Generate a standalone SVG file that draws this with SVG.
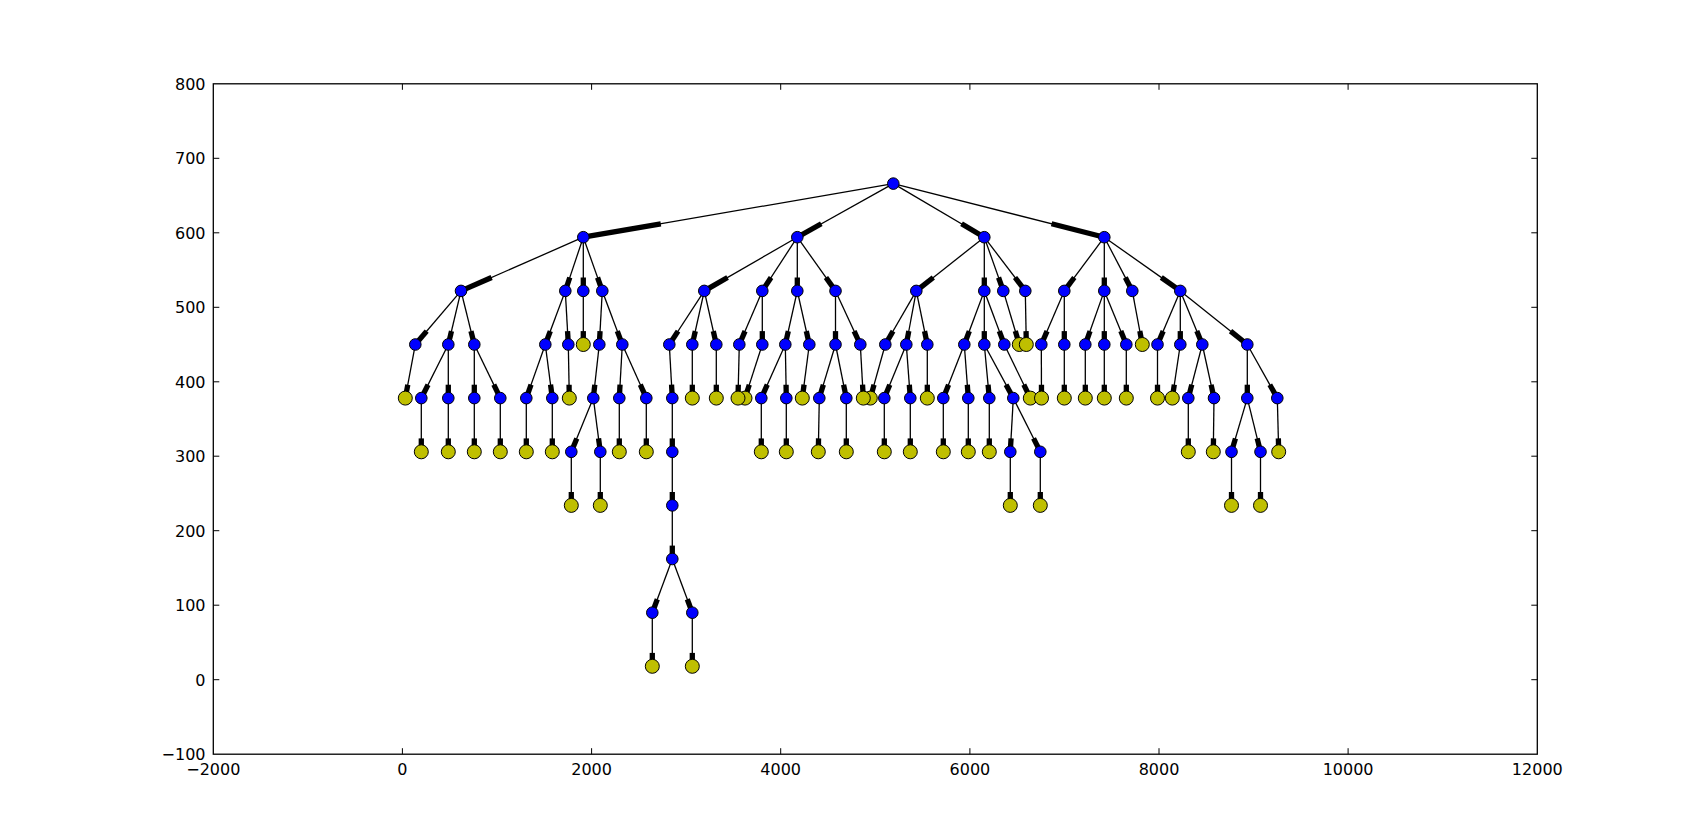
<svg xmlns="http://www.w3.org/2000/svg" width="1707" height="838" viewBox="0 0 1707 838">
<style>
.e line{stroke:#000;stroke-width:1.3}
.a line{stroke:#000;stroke-width:5.3;stroke-linecap:butt}
.b{fill:#0000ff;stroke:#000;stroke-width:1}
.y{fill:#bfbf00;stroke:#000;stroke-width:1}
.t{font-family:"DejaVu Sans",sans-serif;font-size:16px;fill:#000}
.tk line{stroke:#000;stroke-width:1}
</style>
<rect x="0" y="0" width="1707" height="838" fill="#fff"/>
<g id="connectors">
<g class="e">
<line x1="893.3" y1="183.6" x2="583.3" y2="237.2"/>
<line x1="893.3" y1="183.6" x2="797.3" y2="237.2"/>
<line x1="893.3" y1="183.6" x2="984.3" y2="237.2"/>
<line x1="893.3" y1="183.6" x2="1104.3" y2="237.2"/>
<line x1="583.3" y1="237.2" x2="461" y2="290.9"/>
<line x1="583.3" y1="237.2" x2="565.3" y2="290.9"/>
<line x1="583.3" y1="237.2" x2="583.3" y2="290.9"/>
<line x1="583.3" y1="237.2" x2="602.3" y2="290.9"/>
<line x1="797.3" y1="237.2" x2="704.3" y2="290.9"/>
<line x1="797.3" y1="237.2" x2="762.3" y2="290.9"/>
<line x1="797.3" y1="237.2" x2="797.3" y2="290.9"/>
<line x1="797.3" y1="237.2" x2="835.5" y2="290.9"/>
<line x1="984.3" y1="237.2" x2="916.3" y2="290.9"/>
<line x1="984.3" y1="237.2" x2="984.3" y2="290.9"/>
<line x1="984.3" y1="237.2" x2="1003.3" y2="290.9"/>
<line x1="984.3" y1="237.2" x2="1025.3" y2="290.9"/>
<line x1="1104.3" y1="237.2" x2="1064.3" y2="290.9"/>
<line x1="1104.3" y1="237.2" x2="1104.3" y2="290.9"/>
<line x1="1104.3" y1="237.2" x2="1132.3" y2="290.9"/>
<line x1="1104.3" y1="237.2" x2="1180.3" y2="290.9"/>
<line x1="461" y1="290.9" x2="415.3" y2="344.5"/>
<line x1="461" y1="290.9" x2="448.3" y2="344.5"/>
<line x1="461" y1="290.9" x2="474.3" y2="344.5"/>
<line x1="565.3" y1="290.9" x2="545.3" y2="344.5"/>
<line x1="565.3" y1="290.9" x2="568.3" y2="344.5"/>
<line x1="583.3" y1="290.9" x2="583.3" y2="344.5"/>
<line x1="602.3" y1="290.9" x2="599.3" y2="344.5"/>
<line x1="602.3" y1="290.9" x2="622.3" y2="344.5"/>
<line x1="704.3" y1="290.9" x2="669.3" y2="344.5"/>
<line x1="704.3" y1="290.9" x2="692.3" y2="344.5"/>
<line x1="704.3" y1="290.9" x2="716.3" y2="344.5"/>
<line x1="762.3" y1="290.9" x2="739.3" y2="344.5"/>
<line x1="762.3" y1="290.9" x2="762.3" y2="344.5"/>
<line x1="797.3" y1="290.9" x2="785.3" y2="344.5"/>
<line x1="797.3" y1="290.9" x2="809.3" y2="344.5"/>
<line x1="835.5" y1="290.9" x2="835.5" y2="344.5"/>
<line x1="835.5" y1="290.9" x2="860.3" y2="344.5"/>
<line x1="916.3" y1="290.9" x2="885.3" y2="344.5"/>
<line x1="916.3" y1="290.9" x2="906.3" y2="344.5"/>
<line x1="916.3" y1="290.9" x2="927.3" y2="344.5"/>
<line x1="984.3" y1="290.9" x2="964.3" y2="344.5"/>
<line x1="984.3" y1="290.9" x2="984.3" y2="344.5"/>
<line x1="984.3" y1="290.9" x2="1004.3" y2="344.5"/>
<line x1="1003.3" y1="290.9" x2="1019.3" y2="344.5"/>
<line x1="1025.3" y1="290.9" x2="1026.3" y2="344.5"/>
<line x1="1064.3" y1="290.9" x2="1041.3" y2="344.5"/>
<line x1="1064.3" y1="290.9" x2="1064.3" y2="344.5"/>
<line x1="1104.3" y1="290.9" x2="1085.3" y2="344.5"/>
<line x1="1104.3" y1="290.9" x2="1104.3" y2="344.5"/>
<line x1="1104.3" y1="290.9" x2="1126.3" y2="344.5"/>
<line x1="1132.3" y1="290.9" x2="1142.3" y2="344.5"/>
<line x1="1180.3" y1="290.9" x2="1157.5" y2="344.5"/>
<line x1="1180.3" y1="290.9" x2="1180.3" y2="344.5"/>
<line x1="1180.3" y1="290.9" x2="1202.3" y2="344.5"/>
<line x1="1180.3" y1="290.9" x2="1247.3" y2="344.5"/>
<line x1="415.3" y1="344.5" x2="405.3" y2="398.1"/>
<line x1="448.3" y1="344.5" x2="421.3" y2="398.1"/>
<line x1="448.3" y1="344.5" x2="448.3" y2="398.1"/>
<line x1="474.3" y1="344.5" x2="474.3" y2="398.1"/>
<line x1="474.3" y1="344.5" x2="500.3" y2="398.1"/>
<line x1="545.3" y1="344.5" x2="526.3" y2="398.1"/>
<line x1="545.3" y1="344.5" x2="552.3" y2="398.1"/>
<line x1="568.3" y1="344.5" x2="569.3" y2="398.1"/>
<line x1="599.3" y1="344.5" x2="593.3" y2="398.1"/>
<line x1="622.3" y1="344.5" x2="619.3" y2="398.1"/>
<line x1="622.3" y1="344.5" x2="646.3" y2="398.1"/>
<line x1="669.3" y1="344.5" x2="672.3" y2="398.1"/>
<line x1="692.3" y1="344.5" x2="692.3" y2="398.1"/>
<line x1="716.3" y1="344.5" x2="716.3" y2="398.1"/>
<line x1="739.3" y1="344.5" x2="738" y2="398.1"/>
<line x1="762.3" y1="344.5" x2="745" y2="398.1"/>
<line x1="785.3" y1="344.5" x2="761.3" y2="398.1"/>
<line x1="785.3" y1="344.5" x2="786.3" y2="398.1"/>
<line x1="809.3" y1="344.5" x2="802.3" y2="398.1"/>
<line x1="835.5" y1="344.5" x2="819.3" y2="398.1"/>
<line x1="835.5" y1="344.5" x2="846.3" y2="398.1"/>
<line x1="860.3" y1="344.5" x2="863.3" y2="398.1"/>
<line x1="885.3" y1="344.5" x2="870.3" y2="398.1"/>
<line x1="906.3" y1="344.5" x2="884.3" y2="398.1"/>
<line x1="906.3" y1="344.5" x2="910.3" y2="398.1"/>
<line x1="927.3" y1="344.5" x2="927.3" y2="398.1"/>
<line x1="964.3" y1="344.5" x2="943.3" y2="398.1"/>
<line x1="964.3" y1="344.5" x2="968.3" y2="398.1"/>
<line x1="984.3" y1="344.5" x2="989.3" y2="398.1"/>
<line x1="984.3" y1="344.5" x2="1013.3" y2="398.1"/>
<line x1="1004.3" y1="344.5" x2="1030.3" y2="398.1"/>
<line x1="1041.3" y1="344.5" x2="1041.5" y2="398.1"/>
<line x1="1064.3" y1="344.5" x2="1064.3" y2="398.1"/>
<line x1="1085.3" y1="344.5" x2="1085.3" y2="398.1"/>
<line x1="1104.3" y1="344.5" x2="1104.3" y2="398.1"/>
<line x1="1126.3" y1="344.5" x2="1126.3" y2="398.1"/>
<line x1="1157.5" y1="344.5" x2="1157.5" y2="398.1"/>
<line x1="1180.3" y1="344.5" x2="1172.3" y2="398.1"/>
<line x1="1202.3" y1="344.5" x2="1188.3" y2="398.1"/>
<line x1="1202.3" y1="344.5" x2="1214" y2="398.1"/>
<line x1="1247.3" y1="344.5" x2="1247.3" y2="398.1"/>
<line x1="1247.3" y1="344.5" x2="1277.3" y2="398.1"/>
<line x1="421.3" y1="398.1" x2="421.3" y2="451.8"/>
<line x1="448.3" y1="398.1" x2="448.3" y2="451.8"/>
<line x1="474.3" y1="398.1" x2="474.3" y2="451.8"/>
<line x1="500.3" y1="398.1" x2="500.3" y2="451.8"/>
<line x1="526.3" y1="398.1" x2="526.3" y2="451.8"/>
<line x1="552.3" y1="398.1" x2="552.3" y2="451.8"/>
<line x1="593.3" y1="398.1" x2="571.3" y2="451.8"/>
<line x1="593.3" y1="398.1" x2="600.3" y2="451.8"/>
<line x1="619.3" y1="398.1" x2="619.3" y2="451.8"/>
<line x1="646.3" y1="398.1" x2="646.3" y2="451.8"/>
<line x1="672.3" y1="398.1" x2="672.3" y2="451.8"/>
<line x1="761.3" y1="398.1" x2="761.3" y2="451.8"/>
<line x1="786.3" y1="398.1" x2="786.3" y2="451.8"/>
<line x1="819.3" y1="398.1" x2="818.3" y2="451.8"/>
<line x1="846.3" y1="398.1" x2="846.3" y2="451.8"/>
<line x1="884.3" y1="398.1" x2="884.3" y2="451.8"/>
<line x1="910.3" y1="398.1" x2="910.3" y2="451.8"/>
<line x1="943.3" y1="398.1" x2="943.3" y2="451.8"/>
<line x1="968.3" y1="398.1" x2="968.3" y2="451.8"/>
<line x1="989.3" y1="398.1" x2="989.3" y2="451.8"/>
<line x1="1013.3" y1="398.1" x2="1010.3" y2="451.8"/>
<line x1="1013.3" y1="398.1" x2="1040.3" y2="451.8"/>
<line x1="1188.3" y1="398.1" x2="1188.3" y2="451.8"/>
<line x1="1214" y1="398.1" x2="1213.3" y2="451.8"/>
<line x1="1247.3" y1="398.1" x2="1231.5" y2="451.8"/>
<line x1="1247.3" y1="398.1" x2="1260.5" y2="451.8"/>
<line x1="1277.3" y1="398.1" x2="1278.7" y2="451.8"/>
<line x1="571.3" y1="451.8" x2="571.3" y2="505.4"/>
<line x1="600.3" y1="451.8" x2="600.3" y2="505.4"/>
<line x1="672.3" y1="451.8" x2="672.3" y2="505.4"/>
<line x1="1010.3" y1="451.8" x2="1010.3" y2="505.4"/>
<line x1="1040.3" y1="451.8" x2="1040.3" y2="505.4"/>
<line x1="1231.5" y1="451.8" x2="1231.5" y2="505.4"/>
<line x1="1260.5" y1="451.8" x2="1260.5" y2="505.4"/>
<line x1="672.3" y1="505.4" x2="672.3" y2="559"/>
<line x1="672.3" y1="559" x2="652.3" y2="612.7"/>
<line x1="672.3" y1="559" x2="692.3" y2="612.7"/>
<line x1="652.3" y1="612.7" x2="652.3" y2="666.3"/>
<line x1="692.3" y1="612.7" x2="692.3" y2="666.3"/>
</g>
<g class="a">
<line x1="660.8" y1="223.8" x2="583.3" y2="237.2"/>
<line x1="821.3" y1="223.8" x2="797.3" y2="237.2"/>
<line x1="961.55" y1="223.8" x2="984.3" y2="237.2"/>
<line x1="1051.55" y1="223.8" x2="1104.3" y2="237.2"/>
<line x1="491.6" y1="277.5" x2="461" y2="290.9"/>
<line x1="569.8" y1="277.5" x2="565.3" y2="290.9"/>
<line x1="583.3" y1="277.5" x2="583.3" y2="290.9"/>
<line x1="597.55" y1="277.5" x2="602.3" y2="290.9"/>
<line x1="727.55" y1="277.5" x2="704.3" y2="290.9"/>
<line x1="771.05" y1="277.5" x2="762.3" y2="290.9"/>
<line x1="797.3" y1="277.5" x2="797.3" y2="290.9"/>
<line x1="825.95" y1="277.5" x2="835.5" y2="290.9"/>
<line x1="933.3" y1="277.5" x2="916.3" y2="290.9"/>
<line x1="984.3" y1="277.5" x2="984.3" y2="290.9"/>
<line x1="998.55" y1="277.5" x2="1003.3" y2="290.9"/>
<line x1="1015.05" y1="277.5" x2="1025.3" y2="290.9"/>
<line x1="1074.3" y1="277.5" x2="1064.3" y2="290.9"/>
<line x1="1104.3" y1="277.5" x2="1104.3" y2="290.9"/>
<line x1="1125.3" y1="277.5" x2="1132.3" y2="290.9"/>
<line x1="1161.3" y1="277.5" x2="1180.3" y2="290.9"/>
<line x1="426.7" y1="331.1" x2="415.3" y2="344.5"/>
<line x1="451.5" y1="331.1" x2="448.3" y2="344.5"/>
<line x1="470.98" y1="331.1" x2="474.3" y2="344.5"/>
<line x1="550.3" y1="331.1" x2="545.3" y2="344.5"/>
<line x1="567.55" y1="331.1" x2="568.3" y2="344.5"/>
<line x1="583.3" y1="331.1" x2="583.3" y2="344.5"/>
<line x1="600.05" y1="331.1" x2="599.3" y2="344.5"/>
<line x1="617.3" y1="331.1" x2="622.3" y2="344.5"/>
<line x1="678.05" y1="331.1" x2="669.3" y2="344.5"/>
<line x1="695.3" y1="331.1" x2="692.3" y2="344.5"/>
<line x1="713.3" y1="331.1" x2="716.3" y2="344.5"/>
<line x1="745.05" y1="331.1" x2="739.3" y2="344.5"/>
<line x1="762.3" y1="331.1" x2="762.3" y2="344.5"/>
<line x1="788.3" y1="331.1" x2="785.3" y2="344.5"/>
<line x1="806.3" y1="331.1" x2="809.3" y2="344.5"/>
<line x1="835.5" y1="331.1" x2="835.5" y2="344.5"/>
<line x1="854.1" y1="331.1" x2="860.3" y2="344.5"/>
<line x1="893.05" y1="331.1" x2="885.3" y2="344.5"/>
<line x1="908.8" y1="331.1" x2="906.3" y2="344.5"/>
<line x1="924.55" y1="331.1" x2="927.3" y2="344.5"/>
<line x1="969.3" y1="331.1" x2="964.3" y2="344.5"/>
<line x1="984.3" y1="331.1" x2="984.3" y2="344.5"/>
<line x1="999.3" y1="331.1" x2="1004.3" y2="344.5"/>
<line x1="1015.3" y1="331.1" x2="1019.3" y2="344.5"/>
<line x1="1026.05" y1="331.1" x2="1026.3" y2="344.5"/>
<line x1="1047.05" y1="331.1" x2="1041.3" y2="344.5"/>
<line x1="1064.3" y1="331.1" x2="1064.3" y2="344.5"/>
<line x1="1090.05" y1="331.1" x2="1085.3" y2="344.5"/>
<line x1="1104.3" y1="331.1" x2="1104.3" y2="344.5"/>
<line x1="1120.8" y1="331.1" x2="1126.3" y2="344.5"/>
<line x1="1139.8" y1="331.1" x2="1142.3" y2="344.5"/>
<line x1="1163.2" y1="331.1" x2="1157.5" y2="344.5"/>
<line x1="1180.3" y1="331.1" x2="1180.3" y2="344.5"/>
<line x1="1196.8" y1="331.1" x2="1202.3" y2="344.5"/>
<line x1="1230.55" y1="331.1" x2="1247.3" y2="344.5"/>
<line x1="407.8" y1="384.7" x2="405.3" y2="398.1"/>
<line x1="428.05" y1="384.7" x2="421.3" y2="398.1"/>
<line x1="448.3" y1="384.7" x2="448.3" y2="398.1"/>
<line x1="474.3" y1="384.7" x2="474.3" y2="398.1"/>
<line x1="493.8" y1="384.7" x2="500.3" y2="398.1"/>
<line x1="531.05" y1="384.7" x2="526.3" y2="398.1"/>
<line x1="550.55" y1="384.7" x2="552.3" y2="398.1"/>
<line x1="569.05" y1="384.7" x2="569.3" y2="398.1"/>
<line x1="594.8" y1="384.7" x2="593.3" y2="398.1"/>
<line x1="620.05" y1="384.7" x2="619.3" y2="398.1"/>
<line x1="640.3" y1="384.7" x2="646.3" y2="398.1"/>
<line x1="671.55" y1="384.7" x2="672.3" y2="398.1"/>
<line x1="692.3" y1="384.7" x2="692.3" y2="398.1"/>
<line x1="716.3" y1="384.7" x2="716.3" y2="398.1"/>
<line x1="738.3" y1="384.7" x2="738" y2="398.1"/>
<line x1="749.3" y1="384.7" x2="745" y2="398.1"/>
<line x1="767.3" y1="384.7" x2="761.3" y2="398.1"/>
<line x1="786.05" y1="384.7" x2="786.3" y2="398.1"/>
<line x1="804.05" y1="384.7" x2="802.3" y2="398.1"/>
<line x1="823.35" y1="384.7" x2="819.3" y2="398.1"/>
<line x1="843.6" y1="384.7" x2="846.3" y2="398.1"/>
<line x1="862.55" y1="384.7" x2="863.3" y2="398.1"/>
<line x1="874.05" y1="384.7" x2="870.3" y2="398.1"/>
<line x1="889.8" y1="384.7" x2="884.3" y2="398.1"/>
<line x1="909.3" y1="384.7" x2="910.3" y2="398.1"/>
<line x1="927.3" y1="384.7" x2="927.3" y2="398.1"/>
<line x1="948.55" y1="384.7" x2="943.3" y2="398.1"/>
<line x1="967.3" y1="384.7" x2="968.3" y2="398.1"/>
<line x1="988.05" y1="384.7" x2="989.3" y2="398.1"/>
<line x1="1006.05" y1="384.7" x2="1013.3" y2="398.1"/>
<line x1="1023.8" y1="384.7" x2="1030.3" y2="398.1"/>
<line x1="1041.45" y1="384.7" x2="1041.5" y2="398.1"/>
<line x1="1064.3" y1="384.7" x2="1064.3" y2="398.1"/>
<line x1="1085.3" y1="384.7" x2="1085.3" y2="398.1"/>
<line x1="1104.3" y1="384.7" x2="1104.3" y2="398.1"/>
<line x1="1126.3" y1="384.7" x2="1126.3" y2="398.1"/>
<line x1="1157.5" y1="384.7" x2="1157.5" y2="398.1"/>
<line x1="1174.3" y1="384.7" x2="1172.3" y2="398.1"/>
<line x1="1191.8" y1="384.7" x2="1188.3" y2="398.1"/>
<line x1="1211.1" y1="384.7" x2="1214" y2="398.1"/>
<line x1="1247.3" y1="384.7" x2="1247.3" y2="398.1"/>
<line x1="1269.8" y1="384.7" x2="1277.3" y2="398.1"/>
<line x1="421.3" y1="438.4" x2="421.3" y2="451.8"/>
<line x1="448.3" y1="438.4" x2="448.3" y2="451.8"/>
<line x1="474.3" y1="438.4" x2="474.3" y2="451.8"/>
<line x1="500.3" y1="438.4" x2="500.3" y2="451.8"/>
<line x1="526.3" y1="438.4" x2="526.3" y2="451.8"/>
<line x1="552.3" y1="438.4" x2="552.3" y2="451.8"/>
<line x1="576.8" y1="438.4" x2="571.3" y2="451.8"/>
<line x1="598.55" y1="438.4" x2="600.3" y2="451.8"/>
<line x1="619.3" y1="438.4" x2="619.3" y2="451.8"/>
<line x1="646.3" y1="438.4" x2="646.3" y2="451.8"/>
<line x1="672.3" y1="438.4" x2="672.3" y2="451.8"/>
<line x1="761.3" y1="438.4" x2="761.3" y2="451.8"/>
<line x1="786.3" y1="438.4" x2="786.3" y2="451.8"/>
<line x1="818.55" y1="438.4" x2="818.3" y2="451.8"/>
<line x1="846.3" y1="438.4" x2="846.3" y2="451.8"/>
<line x1="884.3" y1="438.4" x2="884.3" y2="451.8"/>
<line x1="910.3" y1="438.4" x2="910.3" y2="451.8"/>
<line x1="943.3" y1="438.4" x2="943.3" y2="451.8"/>
<line x1="968.3" y1="438.4" x2="968.3" y2="451.8"/>
<line x1="989.3" y1="438.4" x2="989.3" y2="451.8"/>
<line x1="1011.05" y1="438.4" x2="1010.3" y2="451.8"/>
<line x1="1033.55" y1="438.4" x2="1040.3" y2="451.8"/>
<line x1="1188.3" y1="438.4" x2="1188.3" y2="451.8"/>
<line x1="1213.5" y1="438.4" x2="1213.3" y2="451.8"/>
<line x1="1235.45" y1="438.4" x2="1231.5" y2="451.8"/>
<line x1="1257.2" y1="438.4" x2="1260.5" y2="451.8"/>
<line x1="1278.35" y1="438.4" x2="1278.7" y2="451.8"/>
<line x1="571.3" y1="492" x2="571.3" y2="505.4"/>
<line x1="600.3" y1="492" x2="600.3" y2="505.4"/>
<line x1="672.3" y1="492" x2="672.3" y2="505.4"/>
<line x1="1010.3" y1="492" x2="1010.3" y2="505.4"/>
<line x1="1040.3" y1="492" x2="1040.3" y2="505.4"/>
<line x1="1231.5" y1="492" x2="1231.5" y2="505.4"/>
<line x1="1260.5" y1="492" x2="1260.5" y2="505.4"/>
<line x1="672.3" y1="545.6" x2="672.3" y2="559"/>
<line x1="657.3" y1="599.3" x2="652.3" y2="612.7"/>
<line x1="687.3" y1="599.3" x2="692.3" y2="612.7"/>
<line x1="652.3" y1="652.9" x2="652.3" y2="666.3"/>
<line x1="692.3" y1="652.9" x2="692.3" y2="666.3"/>
</g>
</g>
<g id="nodes">
<g id="n-root"><circle class="b" cx="893.3" cy="183.6" r="5.8"/></g>
<g id="n1-1"><circle class="b" cx="583.3" cy="237.2" r="5.8"/></g>
<g id="n1-2"><circle class="b" cx="797.3" cy="237.2" r="5.8"/></g>
<g id="n1-3"><circle class="b" cx="984.3" cy="237.2" r="5.8"/></g>
<g id="n1-4"><circle class="b" cx="1104.3" cy="237.2" r="5.8"/></g>
<g id="n2-1"><circle class="b" cx="461" cy="290.9" r="5.8"/></g>
<g id="n2-2"><circle class="b" cx="565.3" cy="290.9" r="5.8"/></g>
<g id="n2-3"><circle class="b" cx="583.3" cy="290.9" r="5.8"/></g>
<g id="n2-4"><circle class="b" cx="602.3" cy="290.9" r="5.8"/></g>
<g id="n2-5"><circle class="b" cx="704.3" cy="290.9" r="5.8"/></g>
<g id="n2-6"><circle class="b" cx="762.3" cy="290.9" r="5.8"/></g>
<g id="n2-7"><circle class="b" cx="797.3" cy="290.9" r="5.8"/></g>
<g id="n2-8"><circle class="b" cx="835.5" cy="290.9" r="5.8"/></g>
<g id="n2-9"><circle class="b" cx="916.3" cy="290.9" r="5.8"/></g>
<g id="n2-10"><circle class="b" cx="984.3" cy="290.9" r="5.8"/></g>
<g id="n2-11"><circle class="b" cx="1003.3" cy="290.9" r="5.8"/></g>
<g id="n2-12"><circle class="b" cx="1025.3" cy="290.9" r="5.8"/></g>
<g id="n2-13"><circle class="b" cx="1064.3" cy="290.9" r="5.8"/></g>
<g id="n2-14"><circle class="b" cx="1104.3" cy="290.9" r="5.8"/></g>
<g id="n2-15"><circle class="b" cx="1132.3" cy="290.9" r="5.8"/></g>
<g id="n2-16"><circle class="b" cx="1180.3" cy="290.9" r="5.8"/></g>
<g id="n3-1"><circle class="b" cx="415.3" cy="344.5" r="5.8"/></g>
<g id="n3-2"><circle class="b" cx="448.3" cy="344.5" r="5.8"/></g>
<g id="n3-3"><circle class="b" cx="474.3" cy="344.5" r="5.8"/></g>
<g id="n3-4"><circle class="b" cx="545.3" cy="344.5" r="5.8"/></g>
<g id="n3-5"><circle class="b" cx="568.3" cy="344.5" r="5.8"/></g>
<g id="n3-6"><circle class="y" cx="583.3" cy="344.5" r="7"/></g>
<g id="n3-7"><circle class="b" cx="599.3" cy="344.5" r="5.8"/></g>
<g id="n3-8"><circle class="b" cx="622.3" cy="344.5" r="5.8"/></g>
<g id="n3-9"><circle class="b" cx="669.3" cy="344.5" r="5.8"/></g>
<g id="n3-10"><circle class="b" cx="692.3" cy="344.5" r="5.8"/></g>
<g id="n3-11"><circle class="b" cx="716.3" cy="344.5" r="5.8"/></g>
<g id="n3-12"><circle class="b" cx="739.3" cy="344.5" r="5.8"/></g>
<g id="n3-13"><circle class="b" cx="762.3" cy="344.5" r="5.8"/></g>
<g id="n3-14"><circle class="b" cx="785.3" cy="344.5" r="5.8"/></g>
<g id="n3-15"><circle class="b" cx="809.3" cy="344.5" r="5.8"/></g>
<g id="n3-16"><circle class="b" cx="835.5" cy="344.5" r="5.8"/></g>
<g id="n3-17"><circle class="b" cx="860.3" cy="344.5" r="5.8"/></g>
<g id="n3-18"><circle class="b" cx="885.3" cy="344.5" r="5.8"/></g>
<g id="n3-19"><circle class="b" cx="906.3" cy="344.5" r="5.8"/></g>
<g id="n3-20"><circle class="b" cx="927.3" cy="344.5" r="5.8"/></g>
<g id="n3-21"><circle class="b" cx="964.3" cy="344.5" r="5.8"/></g>
<g id="n3-22"><circle class="b" cx="984.3" cy="344.5" r="5.8"/></g>
<g id="n3-23"><circle class="b" cx="1004.3" cy="344.5" r="5.8"/></g>
<g id="n3-24"><circle class="y" cx="1019.3" cy="344.5" r="7"/></g>
<g id="n3-25"><circle class="y" cx="1026.3" cy="344.5" r="7"/></g>
<g id="n3-26"><circle class="b" cx="1041.3" cy="344.5" r="5.8"/></g>
<g id="n3-27"><circle class="b" cx="1064.3" cy="344.5" r="5.8"/></g>
<g id="n3-28"><circle class="b" cx="1085.3" cy="344.5" r="5.8"/></g>
<g id="n3-29"><circle class="b" cx="1104.3" cy="344.5" r="5.8"/></g>
<g id="n3-30"><circle class="b" cx="1126.3" cy="344.5" r="5.8"/></g>
<g id="n3-31"><circle class="y" cx="1142.3" cy="344.5" r="7"/></g>
<g id="n3-32"><circle class="b" cx="1157.5" cy="344.5" r="5.8"/></g>
<g id="n3-33"><circle class="b" cx="1180.3" cy="344.5" r="5.8"/></g>
<g id="n3-34"><circle class="b" cx="1202.3" cy="344.5" r="5.8"/></g>
<g id="n3-35"><circle class="b" cx="1247.3" cy="344.5" r="5.8"/></g>
<g id="n4-1"><circle class="y" cx="405.3" cy="398.1" r="7"/></g>
<g id="n4-2"><circle class="b" cx="421.3" cy="398.1" r="5.8"/></g>
<g id="n4-3"><circle class="b" cx="448.3" cy="398.1" r="5.8"/></g>
<g id="n4-4"><circle class="b" cx="474.3" cy="398.1" r="5.8"/></g>
<g id="n4-5"><circle class="b" cx="500.3" cy="398.1" r="5.8"/></g>
<g id="n4-6"><circle class="b" cx="526.3" cy="398.1" r="5.8"/></g>
<g id="n4-7"><circle class="b" cx="552.3" cy="398.1" r="5.8"/></g>
<g id="n4-8"><circle class="y" cx="569.3" cy="398.1" r="7"/></g>
<g id="n4-9"><circle class="b" cx="593.3" cy="398.1" r="5.8"/></g>
<g id="n4-10"><circle class="b" cx="619.3" cy="398.1" r="5.8"/></g>
<g id="n4-11"><circle class="b" cx="646.3" cy="398.1" r="5.8"/></g>
<g id="n4-12"><circle class="b" cx="672.3" cy="398.1" r="5.8"/></g>
<g id="n4-13"><circle class="y" cx="692.3" cy="398.1" r="7"/></g>
<g id="n4-14"><circle class="y" cx="716.3" cy="398.1" r="7"/></g>
<g id="n4-16"><circle class="y" cx="745" cy="398.1" r="7"/></g>
<g id="n4-15"><circle class="y" cx="738" cy="398.1" r="7"/></g>
<g id="n4-17"><circle class="b" cx="761.3" cy="398.1" r="5.8"/></g>
<g id="n4-18"><circle class="b" cx="786.3" cy="398.1" r="5.8"/></g>
<g id="n4-19"><circle class="y" cx="802.3" cy="398.1" r="7"/></g>
<g id="n4-20"><circle class="b" cx="819.3" cy="398.1" r="5.8"/></g>
<g id="n4-21"><circle class="b" cx="846.3" cy="398.1" r="5.8"/></g>
<g id="n4-23"><circle class="y" cx="870.3" cy="398.1" r="7"/></g>
<g id="n4-22"><circle class="y" cx="863.3" cy="398.1" r="7"/></g>
<g id="n4-24"><circle class="b" cx="884.3" cy="398.1" r="5.8"/></g>
<g id="n4-25"><circle class="b" cx="910.3" cy="398.1" r="5.8"/></g>
<g id="n4-26"><circle class="y" cx="927.3" cy="398.1" r="7"/></g>
<g id="n4-27"><circle class="b" cx="943.3" cy="398.1" r="5.8"/></g>
<g id="n4-28"><circle class="b" cx="968.3" cy="398.1" r="5.8"/></g>
<g id="n4-29"><circle class="b" cx="989.3" cy="398.1" r="5.8"/></g>
<g id="n4-30"><circle class="b" cx="1013.3" cy="398.1" r="5.8"/></g>
<g id="n4-31"><circle class="y" cx="1030.3" cy="398.1" r="7"/></g>
<g id="n4-32"><circle class="y" cx="1041.5" cy="398.1" r="7"/></g>
<g id="n4-33"><circle class="y" cx="1064.3" cy="398.1" r="7"/></g>
<g id="n4-34"><circle class="y" cx="1085.3" cy="398.1" r="7"/></g>
<g id="n4-35"><circle class="y" cx="1104.3" cy="398.1" r="7"/></g>
<g id="n4-36"><circle class="y" cx="1126.3" cy="398.1" r="7"/></g>
<g id="n4-37"><circle class="y" cx="1157.5" cy="398.1" r="7"/></g>
<g id="n4-38"><circle class="y" cx="1172.3" cy="398.1" r="7"/></g>
<g id="n4-39"><circle class="b" cx="1188.3" cy="398.1" r="5.8"/></g>
<g id="n4-40"><circle class="b" cx="1214" cy="398.1" r="5.8"/></g>
<g id="n4-41"><circle class="b" cx="1247.3" cy="398.1" r="5.8"/></g>
<g id="n4-42"><circle class="b" cx="1277.3" cy="398.1" r="5.8"/></g>
<g id="n5-1"><circle class="y" cx="421.3" cy="451.8" r="7"/></g>
<g id="n5-2"><circle class="y" cx="448.3" cy="451.8" r="7"/></g>
<g id="n5-3"><circle class="y" cx="474.3" cy="451.8" r="7"/></g>
<g id="n5-4"><circle class="y" cx="500.3" cy="451.8" r="7"/></g>
<g id="n5-5"><circle class="y" cx="526.3" cy="451.8" r="7"/></g>
<g id="n5-6"><circle class="y" cx="552.3" cy="451.8" r="7"/></g>
<g id="n5-7"><circle class="b" cx="571.3" cy="451.8" r="5.8"/></g>
<g id="n5-8"><circle class="b" cx="600.3" cy="451.8" r="5.8"/></g>
<g id="n5-9"><circle class="y" cx="619.3" cy="451.8" r="7"/></g>
<g id="n5-10"><circle class="y" cx="646.3" cy="451.8" r="7"/></g>
<g id="n5-11"><circle class="b" cx="672.3" cy="451.8" r="5.8"/></g>
<g id="n5-12"><circle class="y" cx="761.3" cy="451.8" r="7"/></g>
<g id="n5-13"><circle class="y" cx="786.3" cy="451.8" r="7"/></g>
<g id="n5-14"><circle class="y" cx="818.3" cy="451.8" r="7"/></g>
<g id="n5-15"><circle class="y" cx="846.3" cy="451.8" r="7"/></g>
<g id="n5-16"><circle class="y" cx="884.3" cy="451.8" r="7"/></g>
<g id="n5-17"><circle class="y" cx="910.3" cy="451.8" r="7"/></g>
<g id="n5-18"><circle class="y" cx="943.3" cy="451.8" r="7"/></g>
<g id="n5-19"><circle class="y" cx="968.3" cy="451.8" r="7"/></g>
<g id="n5-20"><circle class="y" cx="989.3" cy="451.8" r="7"/></g>
<g id="n5-21"><circle class="b" cx="1010.3" cy="451.8" r="5.8"/></g>
<g id="n5-22"><circle class="b" cx="1040.3" cy="451.8" r="5.8"/></g>
<g id="n5-23"><circle class="y" cx="1188.3" cy="451.8" r="7"/></g>
<g id="n5-24"><circle class="y" cx="1213.3" cy="451.8" r="7"/></g>
<g id="n5-25"><circle class="b" cx="1231.5" cy="451.8" r="5.8"/></g>
<g id="n5-26"><circle class="b" cx="1260.5" cy="451.8" r="5.8"/></g>
<g id="n5-27"><circle class="y" cx="1278.7" cy="451.8" r="7"/></g>
<g id="n6-1"><circle class="y" cx="571.3" cy="505.4" r="7"/></g>
<g id="n6-2"><circle class="y" cx="600.3" cy="505.4" r="7"/></g>
<g id="n6-3"><circle class="b" cx="672.3" cy="505.4" r="5.8"/></g>
<g id="n6-4"><circle class="y" cx="1010.3" cy="505.4" r="7"/></g>
<g id="n6-5"><circle class="y" cx="1040.3" cy="505.4" r="7"/></g>
<g id="n6-6"><circle class="y" cx="1231.5" cy="505.4" r="7"/></g>
<g id="n6-7"><circle class="y" cx="1260.5" cy="505.4" r="7"/></g>
<g id="n7-1"><circle class="b" cx="672.3" cy="559" r="5.8"/></g>
<g id="n8-1"><circle class="b" cx="652.3" cy="612.7" r="5.8"/></g>
<g id="n8-2"><circle class="b" cx="692.3" cy="612.7" r="5.8"/></g>
<g id="n9-1"><circle class="y" cx="652.3" cy="666.3" r="7"/></g>
<g id="n9-2"><circle class="y" cx="692.3" cy="666.3" r="7"/></g>
</g>
<g id="axes">
<rect x="213.3" y="83.8" width="1324" height="670.4" fill="none" stroke="#000" stroke-width="1.3"/>
<g class="tk">
<line x1="402.4" y1="754.2" x2="402.4" y2="748.2"/><line x1="402.4" y1="83.8" x2="402.4" y2="89.8"/>
<line x1="591.6" y1="754.2" x2="591.6" y2="748.2"/><line x1="591.6" y1="83.8" x2="591.6" y2="89.8"/>
<line x1="780.7" y1="754.2" x2="780.7" y2="748.2"/><line x1="780.7" y1="83.8" x2="780.7" y2="89.8"/>
<line x1="969.9" y1="754.2" x2="969.9" y2="748.2"/><line x1="969.9" y1="83.8" x2="969.9" y2="89.8"/>
<line x1="1159" y1="754.2" x2="1159" y2="748.2"/><line x1="1159" y1="83.8" x2="1159" y2="89.8"/>
<line x1="1348.1" y1="754.2" x2="1348.1" y2="748.2"/><line x1="1348.1" y1="83.8" x2="1348.1" y2="89.8"/>
<line x1="213.3" y1="679.7" x2="219.3" y2="679.7"/><line x1="1537.3" y1="679.7" x2="1531.3" y2="679.7"/>
<line x1="213.3" y1="605.2" x2="219.3" y2="605.2"/><line x1="1537.3" y1="605.2" x2="1531.3" y2="605.2"/>
<line x1="213.3" y1="530.7" x2="219.3" y2="530.7"/><line x1="1537.3" y1="530.7" x2="1531.3" y2="530.7"/>
<line x1="213.3" y1="456.2" x2="219.3" y2="456.2"/><line x1="1537.3" y1="456.2" x2="1531.3" y2="456.2"/>
<line x1="213.3" y1="381.8" x2="219.3" y2="381.8"/><line x1="1537.3" y1="381.8" x2="1531.3" y2="381.8"/>
<line x1="213.3" y1="307.3" x2="219.3" y2="307.3"/><line x1="1537.3" y1="307.3" x2="1531.3" y2="307.3"/>
<line x1="213.3" y1="232.8" x2="219.3" y2="232.8"/><line x1="1537.3" y1="232.8" x2="1531.3" y2="232.8"/>
<line x1="213.3" y1="158.3" x2="219.3" y2="158.3"/><line x1="1537.3" y1="158.3" x2="1531.3" y2="158.3"/>
</g>
<g class="t" text-anchor="middle">
<text x="213.3" y="774.5">−2000</text>
<text x="402.4" y="774.5">0</text>
<text x="591.6" y="774.5">2000</text>
<text x="780.7" y="774.5">4000</text>
<text x="969.9" y="774.5">6000</text>
<text x="1159" y="774.5">8000</text>
<text x="1348.1" y="774.5">10000</text>
<text x="1537.3" y="774.5">12000</text>
</g>
<g class="t" text-anchor="end">
<text x="205.5" y="760">−100</text>
<text x="205.5" y="685.5">0</text>
<text x="205.5" y="611">100</text>
<text x="205.5" y="536.5">200</text>
<text x="205.5" y="462">300</text>
<text x="205.5" y="387.6">400</text>
<text x="205.5" y="313.1">500</text>
<text x="205.5" y="238.6">600</text>
<text x="205.5" y="164.1">700</text>
<text x="205.5" y="89.6">800</text>
</g>
</g>
</svg>
